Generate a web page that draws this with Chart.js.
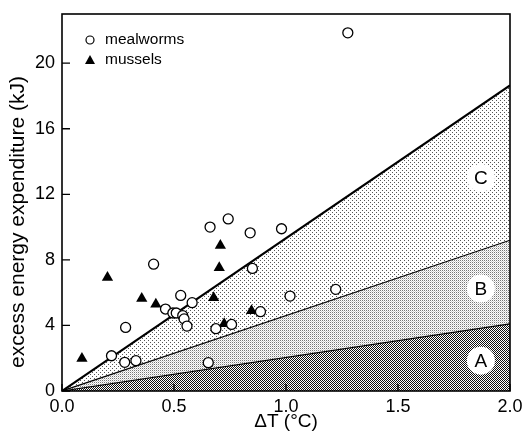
<!DOCTYPE html>
<html>
<head>
<meta charset="utf-8">
<script src="https://cdn.jsdelivr.net/npm/chart.js@4.4.1/dist/chart.umd.min.js"></script>
<style>
  html, body { margin: 0; padding: 0; background: #fff; }
  #wrap { width: 524px; height: 443px; }
</style>
</head>
<body>
<div id="wrap"><canvas id="chart"></canvas></div>
<script>
// Data
const mealwormsX = [0.661, 0.742, 0.84, 0.98, 0.409, 0.85, 0.53, 0.581, 1.018, 0.462, 0.495, 0.51, 0.539, 0.545, 0.558, 0.886, 0.687, 0.757, 0.284, 0.221, 0.28, 0.33, 0.653, 1.222, 1.276];
const mealwormsY = [10.0, 10.5, 9.65, 9.9, 7.74, 7.48, 5.83, 5.39, 5.79, 5.0, 4.76, 4.76, 4.6, 4.4, 3.96, 4.84, 3.8, 4.06, 3.88, 2.15, 1.75, 1.85, 1.73, 6.2, 21.85];
const musselsX = [0.707, 0.702, 0.203, 0.356, 0.419, 0.677, 0.846, 0.724, 0.089];
const musselsY = [8.87, 7.52, 6.93, 5.65, 5.29, 5.69, 4.9, 4.1, 1.99];

// Shaded wedges A, B, C: lines from the origin to x = 2
const regionNames = ['A', 'B', 'C'];
const regionEndX = 2.0;
const regionEndY = [4.1, 9.2, 18.65];
const regionLabelX = 1.87;
const regionLabelY = [1.85, 6.25, 13.0];

const xTicks = [0, 0.5, 1, 1.5, 2];
const yTicks = [0, 4, 8, 12, 16, 20];

const FONT = '"Liberation Sans", Arial, sans-serif';
const Y_TITLE = 'excess energy expenditure (kJ)';

// Screen-tone patterns
function makePattern(size, dots) {
    const c = document.createElement('canvas');
    c.width = size; c.height = size;
    const g = c.getContext('2d');
    g.fillStyle = '#fff';
    g.fillRect(0, 0, size, size);
    dots.forEach(([px, py, col]) => { g.fillStyle = col; g.fillRect(px, py, 1, 1); });
    return g.createPattern(c, 'repeat');
}
const patterns = [
    makePattern(2, [[0, 0, '#111'], [1, 1, '#111']]),
    makePattern(2, [[0, 0, '#777'], [1, 1, '#cfcfcf']]),
    makePattern(4, [[0, 0, '#555'], [2, 2, '#555']])
];

const toPoints = (xs, ys) => xs.map((v, i) => ({x: v, y: ys[i]}));

const regionSets = regionNames.map((n, i) => ({
    label: n,
    type: 'line',
    data: [{x: 0, y: 0}, {x: regionEndX, y: regionEndY[i]}],
    borderColor: '#000',
    borderWidth: i === 2 ? 2.2 : 1.2,
    backgroundColor: patterns[i],
    pointRadius: 0,
    fill: i === 0 ? 'origin' : '-1',
    order: 10 - i
}));

// Inward ticks, frame, region letters, y title and the legend
const decorations = {
    id: 'decorations',
    afterDatasetsDraw(chart) {
        const {ctx, chartArea: a, scales: {x, y}} = chart;
        ctx.save();
        ctx.strokeStyle = '#000';
        ctx.lineWidth = 1.6;
        ctx.strokeRect(a.left, a.top, a.right - a.left, a.bottom - a.top);

        ctx.lineWidth = 1.3;
        ctx.beginPath();
        xTicks.forEach(v => {
            const px = x.getPixelForValue(v);
            ctx.moveTo(px, a.bottom);
            ctx.lineTo(px, a.bottom - 7);
        });
        yTicks.forEach(v => {
            const py = y.getPixelForValue(v);
            ctx.moveTo(a.left, py);
            ctx.lineTo(a.left + 8, py);
        });
        ctx.stroke();

        ctx.fillStyle = '#000';
        ctx.font = '19px ' + FONT;
        ctx.textAlign = 'center';
        ctx.textBaseline = 'middle';
        regionNames.forEach((n, i) => {
            ctx.fillText(n, x.getPixelForValue(regionLabelX), y.getPixelForValue(regionLabelY[i]) + 1);
        });

        // y axis title, sits a little below the middle of the axis
        ctx.save();
        ctx.translate(18, 222);
        ctx.rotate(-Math.PI / 2);
        ctx.font = '21px ' + FONT;
        ctx.fillText(Y_TITLE, 0, 0);
        ctx.restore();

        // legend
        const lx = a.left + 28;
        ctx.lineWidth = 1.2;
        ctx.beginPath();
        ctx.arc(lx, a.top + 26, 4, 0, Math.PI * 2);
        ctx.fillStyle = '#fff';
        ctx.fill();
        ctx.stroke();
        ctx.fillStyle = '#000';
        ctx.beginPath();
        ctx.moveTo(lx, a.top + 41);
        ctx.lineTo(lx + 5, a.top + 50);
        ctx.lineTo(lx - 5, a.top + 50);
        ctx.closePath();
        ctx.fill();
        ctx.font = '15.5px ' + FONT;
        ctx.textAlign = 'left';
        ctx.fillText('mealworms', a.left + 43, a.top + 26);
        ctx.fillText('mussels', a.left + 43, a.top + 46);
        ctx.restore();
    }
};

const chart = new Chart(document.getElementById('chart'), {
    type: 'scatter',
    data: {
        datasets: [
            ...regionSets,
            {
                label: 'labels',
                data: toPoints(regionNames.map(() => regionLabelX), regionLabelY),
                pointRadius: 14,
                backgroundColor: '#fff',
                borderWidth: 0,
                order: 5
            },
            {
                label: 'mussels',
                data: toPoints(musselsX, musselsY),
                pointStyle: 'triangle',
                pointRadius: 6.5,
                backgroundColor: '#000',
                borderColor: '#000',
                borderWidth: 0,
                order: 2
            },
            {
                label: 'mealworms',
                data: toPoints(mealwormsX, mealwormsY),
                pointStyle: 'circle',
                pointRadius: 5,
                backgroundColor: '#fff',
                borderColor: '#000',
                borderWidth: 1.3,
                order: 1
            }
        ]
    },
    options: {
        responsive: true,
        maintainAspectRatio: false,
        animation: false,
        layout: { padding: { left: 30, right: 12, top: 8, bottom: 10 } },
        plugins: {
            legend: { display: false },
            tooltip: { enabled: false },
            filler: { drawTime: 'beforeDatasetsDraw' }
        },
        scales: {
            x: {
                type: 'linear',
                min: 0,
                max: 2,
                afterBuildTicks: s => { s.ticks = xTicks.map(v => ({value: v})); },
                afterFit: s => { s.height = 42; s.paddingLeft = 0; s.paddingRight = 0; },
                grid: { display: false, drawTicks: false },
                border: { display: false },
                ticks: {
                    color: '#000',
                    padding: 5,
                    maxRotation: 0,
                    font: { family: FONT, size: 18 },
                    callback: v => Number(v).toFixed(1)
                },
                title: {
                    display: true,
                    text: 'ΔT (°C)',
                    color: '#000',
                    padding: 0,
                    font: { family: FONT, size: 19 }
                }
            },
            y: {
                type: 'linear',
                min: 0,
                max: 23,
                afterBuildTicks: s => { s.ticks = yTicks.map(v => ({value: v})); },
                afterFit: s => { s.width = 32; s.paddingTop = 0; s.paddingBottom = 0; },
                grid: { display: false, drawTicks: false },
                border: { display: false },
                ticks: {
                    color: '#000',
                    padding: 7,
                    font: { family: FONT, size: 18 }
                }
            }
        }
    },
    plugins: [decorations]
});
</script>
</body>
</html>
